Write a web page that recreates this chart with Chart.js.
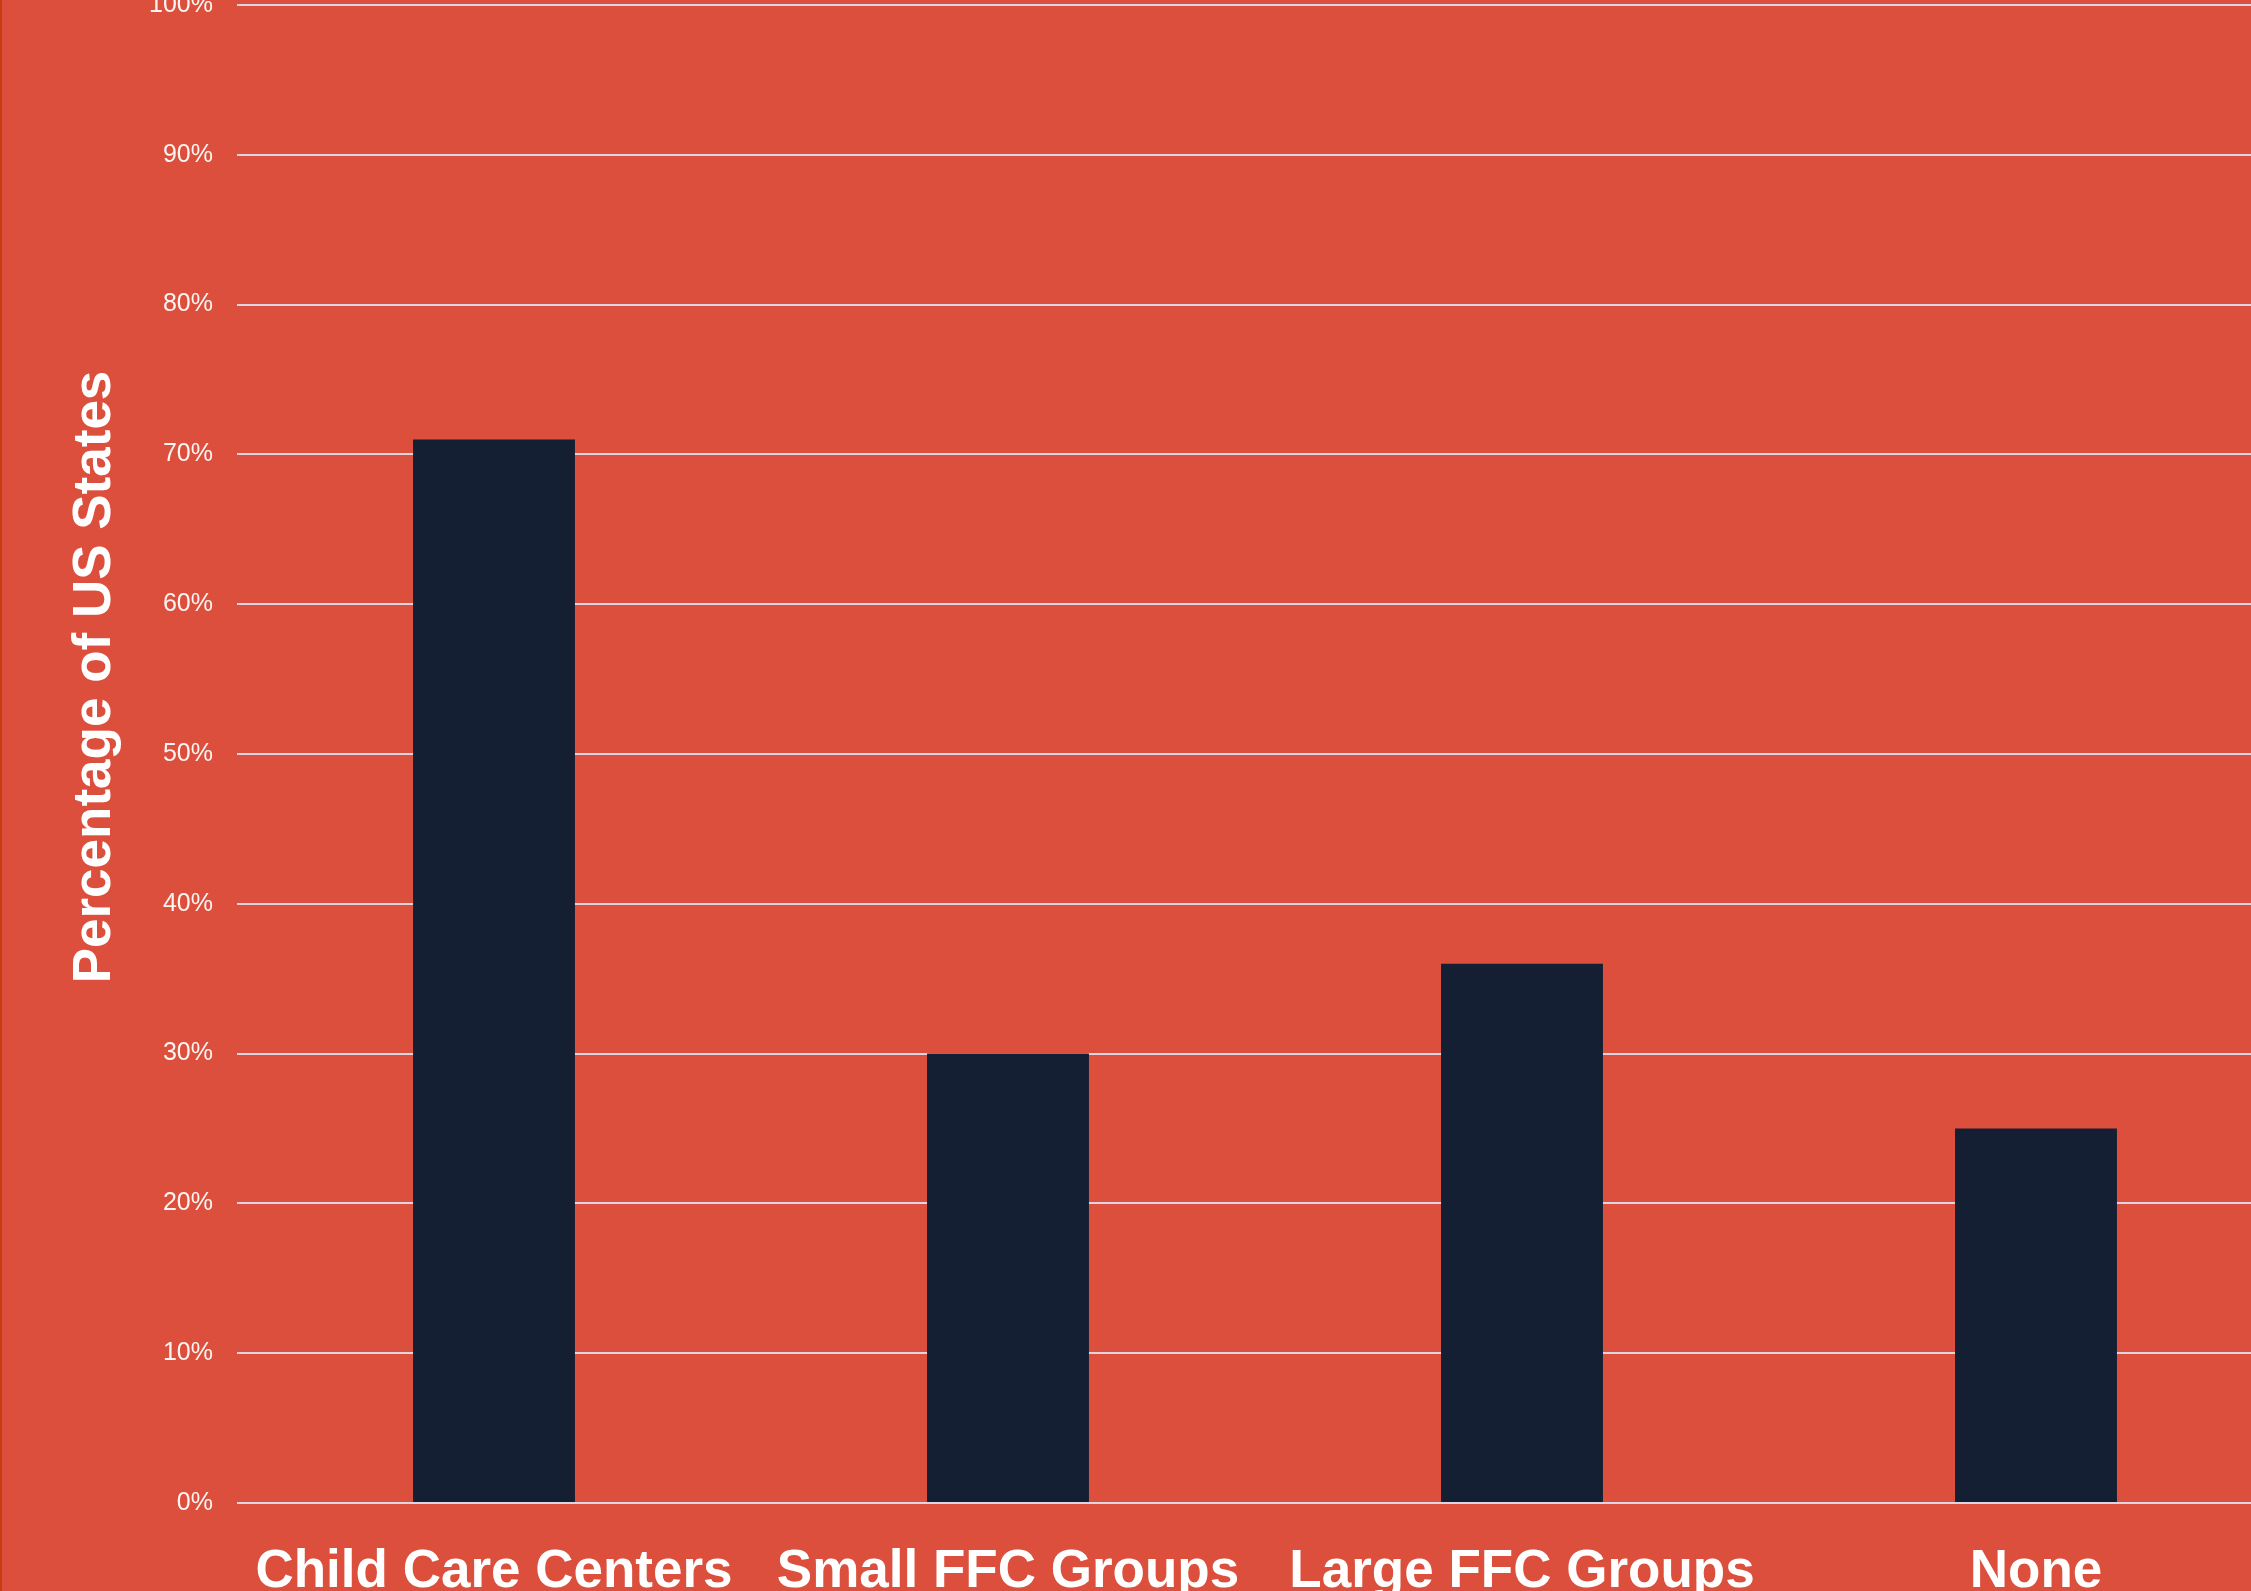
<!DOCTYPE html>
<html>
<head>
<meta charset="utf-8">
<title>Percentage of US States</title>
<script src="https://cdn.jsdelivr.net/npm/chart.js@4/dist/chart.umd.min.js"></script>
<style>
    html, body {
        margin: 0;
        padding: 0;
        overflow: hidden;
        background: #dc4f3c;
        width: 2251px;
        height: 1591px;
    }
    body {
        border-left: 2px solid #c93c10;
        box-sizing: border-box;
        position: relative;
    }
    #wrap {
        position: absolute;
        left: -2px;
        top: 0;
        width: 2293px;
        height: 1633px;
    }
</style>
</head>
<body>
<div id="wrap"><canvas id="chart"></canvas></div>
<script>
const categories = ['Child Care Centers', 'Small FFC Groups', 'Large FFC Groups', 'None'];
const percentOfStates = [71, 30, 36, 25];
const yTickValues = [0, 10, 20, 30, 40, 50, 60, 70, 80, 90, 100];
const yAxisTitle = 'Percentage of US States';

const fontFamily = "'Liberation Sans', Arial, sans-serif";

// draws the rotated y title where the original sits (not centred on the plot)
const yTitlePlugin = {
    id: 'yTitle',
    afterDraw(chart) {
        const ctx = chart.ctx;
        ctx.save();
        ctx.translate(110, 677);
        ctx.rotate(-Math.PI / 2);
        ctx.font = 'bold 53px ' + fontFamily;
        ctx.fillStyle = '#ffffff';
        ctx.textAlign = 'center';
        ctx.textBaseline = 'alphabetic';
        ctx.fillText(yAxisTitle, 0, 0);
        ctx.restore();
    }
};

new Chart(document.getElementById('chart').getContext('2d'), {
    type: 'bar',
    data: {
        labels: categories,
        datasets: [{
            data: percentOfStates,
            backgroundColor: '#141f33',
            borderWidth: 0,
            categoryPercentage: 1,
            barPercentage: 0.315
        }]
    },
    plugins: [yTitlePlugin],
    options: {
        responsive: true,
        maintainAspectRatio: false,
        animation: false,
        layout: { padding: { top: 5, left: 0, right: 0, bottom: 0 } },
        plugins: {
            legend: { display: false },
            tooltip: { enabled: false }
        },
        scales: {
            x: {
                grid: { display: false },
                border: { display: false },
                ticks: {
                    color: '#ffffff',
                    padding: 30,
                    maxRotation: 0,
                    autoSkip: false,
                    font: { family: fontFamily, size: 53, weight: 'bold' }
                },
                afterFit(axis) {
                    axis.height = 130;
                    axis.paddingLeft = 0;
                    axis.paddingRight = 0;
                }
            },
            y: {
                min: 0,
                max: 100,
                afterBuildTicks(axis) {
                    axis.ticks = yTickValues.map(v => ({ value: v }));
                },
                grid: {
                    color: '#dcd6e2',
                    lineWidth: 2,
                    drawTicks: false
                },
                border: { display: false },
                ticks: {
                    color: '#fbf5f3',
                    padding: 24,
                    font: { family: fontFamily, size: 25 },
                    callback: v => v + '%'
                },
                afterFit(axis) {
                    axis.width = 237;
                    axis.paddingTop = 0;
                    axis.paddingBottom = 0;
                }
            }
        }
    }
});
</script>
</body>
</html>
